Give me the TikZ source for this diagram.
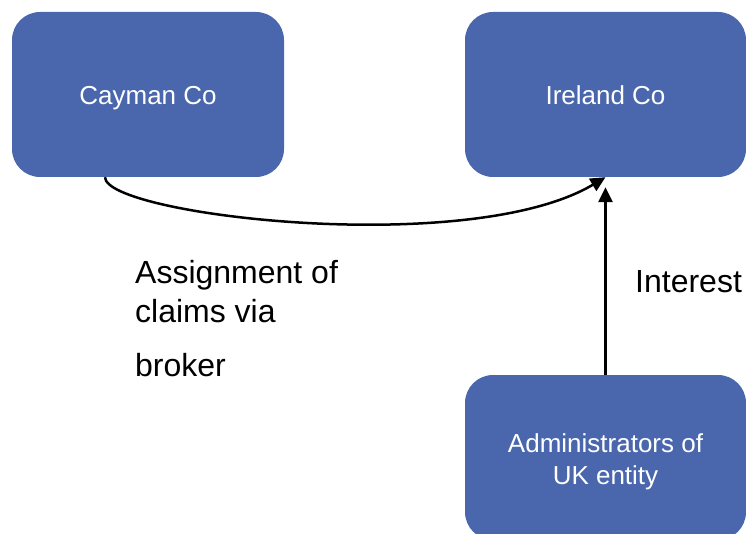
\documentclass[tikz,border=0pt]{standalone}
\usepackage{fontspec}
\setmainfont{Liberation Sans}
\usetikzlibrary{arrows.meta}
\definecolor{boxblue}{HTML}{4A67AD}
\begin{document}
\begin{tikzpicture}[x=1pt,y=-1pt,
  entity/.style={draw=none,fill=boxblue,rounded corners=28pt,text=white,
    minimum width=281pt,minimum height=165pt,inner sep=0pt,align=center,
    text height=26pt,text depth=5pt,
    font=\fontsize{26}{32}\selectfont},
  flow/.style={line width=2.5pt,-{Triangle[length=15pt,width=14pt]}},
  label/.style={inner sep=0pt,anchor=base west,align=left,
    font=\fontsize{32}{39}\selectfont}]
  \useasboundingbox (0,0) rectangle (746,534);
  \node[entity,minimum width=272pt] (cay) at (148,94.5) {Cayman Co};
  \node[entity] (ire) at (605.5,94.5) {Ireland Co};
  % two-line box: its baseline is that of the last line
  \node[entity,text height=58pt] (adm) at (605.5,457.5) {Administrators of\\UK entity};
  \coordinate (cayout) at ([xshift=-43pt]cay.south);
  % assignment of claims: curved connector
  \draw[flow] (cayout) .. controls +(0,38) and +(-136,81) .. (ire.south);
  % interest paid up to Ireland Co
  \draw[flow,shorten >=10pt] (adm.north) -- (ire.south);
  \node[label] (assign) at (135,376) {Assignment of\\claims via\\[15pt]broker};
  \node[label] (interest) at (635,292) {Interest};
\end{tikzpicture}
\end{document}
